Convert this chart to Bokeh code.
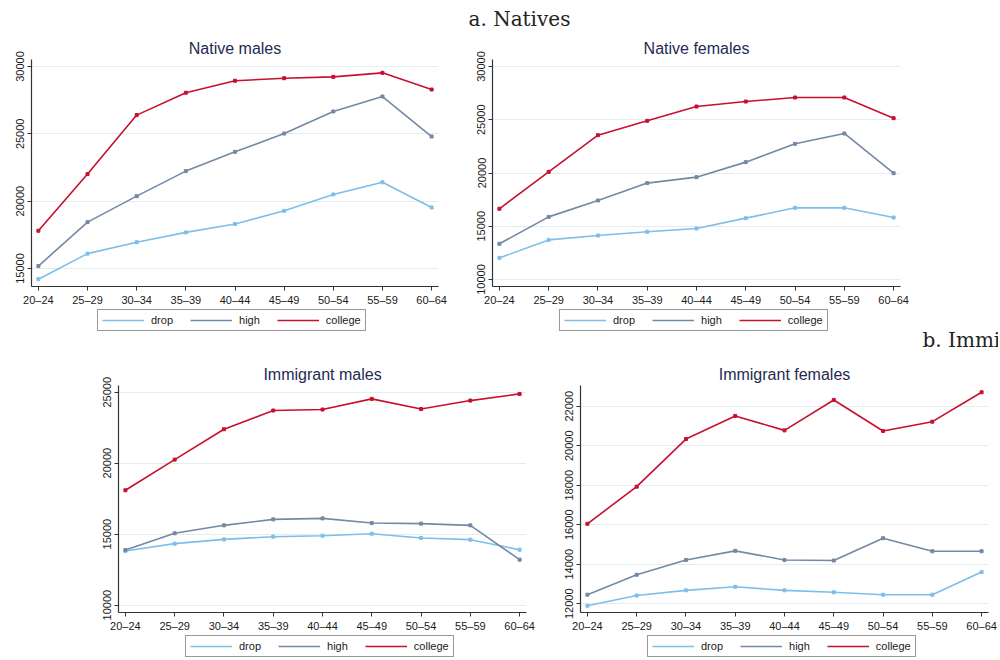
from bokeh.plotting import figure
from bokeh.layouts import column, row
from bokeh.models import Range1d, FixedTicker, Legend, LegendItem, Label
from bokeh.embed import file_html
from bokeh.resources import INLINE

# Age groups on the x axis
age_groups = ["20–24", "25–29", "30–34", "35–39", "40–44", "45–49", "50–54", "55–59", "60–64"]
education = ["drop", "high", "college"]

# Mean earnings by age group and education
native_males_drop = [14200, 16100, 16950, 17680, 18300, 19280, 20500, 21400, 19530]
native_males_high = [15180, 18440, 20370, 22230, 23660, 25020, 26660, 27770, 24800]
native_males_college = [17800, 22010, 26390, 28050, 28940, 29130, 29230, 29530, 28290]

native_females_drop = [12030, 13720, 14130, 14480, 14790, 15760, 16730, 16730, 15820]
native_females_high = [13350, 15880, 17420, 19050, 19610, 21020, 22740, 23710, 19980]
native_females_college = [16640, 20110, 23550, 24900, 26240, 26710, 27090, 27090, 25150]

immigrant_males_drop = [13810, 14330, 14630, 14820, 14890, 15030, 14730, 14610, 13900]
immigrant_males_high = [13880, 15060, 15620, 16040, 16110, 15780, 15740, 15620, 13200]
immigrant_males_college = [18090, 20250, 22390, 23710, 23780, 24530, 23820, 24410, 24880]

immigrant_females_drop = [11900, 12420, 12680, 12860, 12680, 12580, 12460, 12460, 13610]
immigrant_females_high = [12460, 13470, 14220, 14680, 14220, 14190, 15320, 14660, 14660]
immigrant_females_college = [16050, 17930, 20340, 21510, 20780, 22320, 20750, 21220, 22710]

# Y-axis tick values per panel
native_males_yticks = [15000, 20000, 25000, 30000]
native_females_yticks = [10000, 15000, 20000, 25000, 30000]
immigrant_males_yticks = [10000, 15000, 20000, 25000]
immigrant_females_yticks = [12000, 14000, 16000, 18000, 20000, 22000]

SERIES_COLORS = ["#7dbfea", "#7389a6", "#c8102e"]
TITLE_COLOR = "#1e2b52"
SANS = "Liberation Sans"
PAGE_WIDTH = 998

heading_style = dict(x_units="screen", y_units="screen", text_font="DejaVu Serif",
                     text_font_size="20px", text_color="#222222",
                     text_baseline="alphabetic", text_align="left")


def make_panel(title, series, y_range, y_ticks, width, height, borders):
    left, right, top, bottom = borders
    p = figure(
        width=width, height=height, title=title,
        x_range=Range1d(-0.14, 8.14), y_range=Range1d(*y_range),
        output_backend="svg", toolbar_location=None,
        min_border_left=left, min_border_right=right,
        min_border_top=top, min_border_bottom=bottom,
    )
    p.outline_line_color = None
    p.title.align = "center"
    p.title.text_font = SANS
    p.title.text_font_size = "16px"
    p.title.text_font_style = "normal"
    p.title.text_color = TITLE_COLOR
    p.title.standoff = 6

    xs = list(range(len(age_groups)))
    for ys, color in zip(series, SERIES_COLORS):
        p.line(xs, ys, line_color=color, line_width=1.6)
        p.scatter(xs, ys, marker="square", size=3, color=color)

    p.xgrid.visible = False
    p.ygrid.grid_line_color = "#e3eded"
    p.ygrid.grid_line_width = 1

    for ax in (p.xaxis[0], p.yaxis[0]):
        ax.axis_line_color = "#333333"
        ax.axis_line_width = 1.2
        ax.major_tick_line_color = "#333333"
        ax.major_tick_out = 4
        ax.major_tick_in = 0
        ax.minor_tick_line_color = None
        ax.major_label_text_font = SANS
        ax.major_label_text_font_size = "11px"
        ax.major_label_text_color = "#1a1a1a"
        ax.major_label_standoff = 3

    p.xaxis.ticker = FixedTicker(ticks=xs)
    p.xaxis.major_label_overrides = {i: lab for i, lab in enumerate(age_groups)}
    p.yaxis.ticker = FixedTicker(ticks=y_ticks)
    p.yaxis.major_label_orientation = "vertical"
    return p


def make_strip(height, series, legend_lefts, legend_bottom):
    """Full-width band holding the boxed legends that sit under a row of panels."""
    s = figure(width=PAGE_WIDTH, height=height, x_axis_type=None, y_axis_type=None,
               x_range=Range1d(0, 1), y_range=Range1d(0, 1),
               output_backend="svg", toolbar_location=None, min_border=0)
    s.outline_line_color = None
    s.grid.visible = False
    # legend keys: the series lie outside this band's range, so only their swatches show
    xs = list(range(len(age_groups)))
    keys = [s.line(xs, ys, line_color=c, line_width=1.6) for ys, c in zip(series, SERIES_COLORS)]
    for x0 in legend_lefts:
        s.add_layout(Legend(
            items=[LegendItem(label=n, renderers=[r]) for n, r in zip(education, keys)],
            orientation="horizontal", location=(x0, legend_bottom),
            border_line_color="#333333", border_line_width=1,
            background_fill_color="white", background_fill_alpha=1,
            padding=4, spacing=17, margin=0,
            glyph_width=42, glyph_height=12, label_height=12,
            label_standoff=7, label_text_font=SANS, label_text_font_size="11px",
            label_text_color="#1a1a1a",
        ))
    return s


# Page heading
header = figure(width=PAGE_WIDTH, height=32, x_axis_type=None, y_axis_type=None,
                x_range=Range1d(0, 1), y_range=Range1d(0, 1),
                output_backend="svg", toolbar_location=None, min_border=0)
header.outline_line_color = None
header.grid.visible = False
header.add_layout(Label(x=468, y=14, text="a. Natives", **heading_style))

p1 = make_panel("Native males",
                [native_males_drop, native_males_high, native_males_college],
                (13660, 30520), native_males_yticks, 462, 276, (31, 24, 27, 22))
p2 = make_panel("Native females",
                [native_females_drop, native_females_high, native_females_college],
                (9343, 30657), native_females_yticks, 536, 276, (30, 98, 27, 22))
strip1 = make_strip(42, [native_males_drop, native_males_high, native_males_college],
                    [97, 559], 19)
strip1.add_layout(Label(x=922, y=11, text="b. Immigrants", **heading_style))

p3 = make_panel("Immigrant males",
                [immigrant_males_drop, immigrant_males_high, immigrant_males_college],
                (9478, 25473), immigrant_males_yticks, 550, 284, (118, 24, 35, 22))
p4 = make_panel("Immigrant females",
                [immigrant_females_drop, immigrant_females_high, immigrant_females_college],
                (11558, 23052), immigrant_females_yticks, 448, 284, (30, 10, 35, 22))
strip2 = make_strip(24, [immigrant_males_drop, immigrant_males_high, immigrant_males_college],
                    [185, 647], 1)

layout = column(header, row(p1, p2), strip1, row(p3, p4), strip2)
open("out.html", "w").write(file_html(layout, INLINE))
